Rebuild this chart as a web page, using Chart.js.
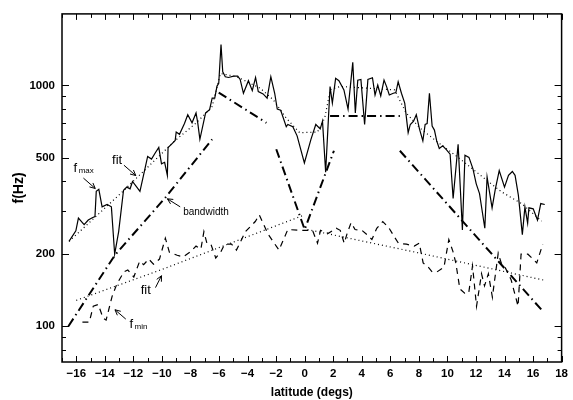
<!DOCTYPE html>
<html>
<head>
<meta charset="utf-8">
<script src="https://cdn.jsdelivr.net/npm/chart.js@4.4.0/dist/chart.umd.min.js"></script>
<style>
  body { margin: 0; background: #fff; }
  #wrap { width: 573px; height: 400px; }
</style>
</head>
<body>
<div id="wrap"><canvas id="chart" width="573" height="400"></canvas></div>
<script>
// upper frequency limit (solid)
const fmaxLat = [-16.51,-16.03,-15.85,-15.45,-15.16,-14.88,-14.69,-14.60,-14.42,-14.19,
  -13.84,-13.54,-13.31,-13.03,-12.69,-12.46,-12.23,-12.06,-11.76,-11.54,
  -11.19,-11.00,-10.73,-10.45,-10.22,-10.03,-9.81,-9.62,-9.57,-9.34,
  -9.07,-9.00,-8.77,-8.42,-8.19,-7.89,-7.61,-7.49,-7.34,-6.94,
  -6.66,-6.48,-6.30,-6.14,-6.02,-5.86,-5.74,-5.56,-5.33,-4.98,
  -4.69,-4.52,-4.29,-3.94,-3.67,-3.44,-3.25,-2.91,-2.63,-2.37,
  -2.10,-1.92,-1.68,-1.29,-1.18,-0.83,-0.53,-0.02,0.44,0.78,
  1.09,1.25,1.47,1.78,1.94,2.17,2.40,2.75,3.04,3.37,
  3.55,3.72,3.94,4.20,4.43,4.75,4.93,5.12,5.33,5.56,
  5.74,5.93,6.21,6.39,6.55,6.78,7.01,7.25,7.40,7.63,
  7.82,8.05,8.28,8.44,8.58,8.74,8.93,9.09,9.25,9.43,
  9.67,9.94,10.19,10.40,10.75,11.05,11.23,11.51,11.79,12.02,
  12.25,12.62,12.78,13.13,13.36,13.63,14.00,14.28,14.55,14.74,
  14.97,15.25,15.43,15.62,15.71,16.01,16.31,16.54,16.82];
const fmaxHz = [225,249,281,264,276,282,285,363,370,313,
  320,313,199,247,367,378,372,399,378,363,
  450,507,494,526,552,472,479,423,552,569,
  591,640,626,694,755,699,768,699,597,768,
  792,885,885,993,1019,1477,1138,1086,1078,1092,
  1092,1058,927,1045,951,1078,942,921,885,1086,
  927,797,788,673,688,673,617,476,597,688,
  660,710,436,988,844,1069,1045,957,797,1246,
  768,1051,1058,688,1058,1075,912,1003,904,1051,
  988,912,927,933,1035,927,844,636,688,710,
  755,656,588,688,694,927,677,652,588,547,
  561,540,518,339,569,251,513,502,450,390,
  355,255,416,310,372,443,378,423,439,423,
  350,240,313,268,310,307,276,323,320];

// fit to fmax (dotted)
const fmaxFitLat = [-16.5,-12.8,-9.1,-7.7,-6.5,-5.9,-4.75,-3.1,-2.2,-1.3,-0.35,0.9,1.4,1.8,2.5,6.3,7.1,8.05,9.2,10.7,12.9,13.8,15.2,16.6];
const fmaxFitHz  = [225,360,588,690,810,1120,1086,972,871,732,636,640,730,960,990,957,770,667,588,505,397,361,323,273];

// lower frequency limit (dashed)
const fminLat = [-15.57,-15.09,-14.81,-14.46,-14.12,-13.91,-13.49,-13.15,-12.66,-12.39,
  -11.97,-11.56,-11.28,-10.93,-10.59,-10.17,-9.76,-9.48,-8.93,-8.51,
  -8.03,-7.61,-7.27,-7.06,-6.85,-6.57,-6.23,-5.88,-5.61,-5.12,
  -4.78,-4.15,-3.46,-3.18,-2.56,-1.80,-1.18,-0.35,0.21,0.55,
  0.90,1.11,1.66,2.21,2.49,2.77,2.98,3.25,3.53,4.01,
  4.43,4.71,5.05,5.47,5.88,6.30,6.57,7.13,7.68,8.03,
  8.30,8.65,8.93,9.27,9.76,10.10,10.38,10.59,10.87,11.21,
  11.49,11.76,12.04,12.39,12.60,12.87,13.15,13.56,13.77,14.05,
  14.46,14.95,15.16,15.29,15.64,15.99,16.26,16.68];
const fminHz = [104,104,121,123,108,106,133,150,168,171,
  160,186,180,190,181,190,232,203,197,194,
  203,215,209,247,221,219,192,203,219,219,
  207,247,272,290,241,207,252,250,250,250,
  221,250,243,255,250,221,243,269,252,250,
  238,229,255,272,257,234,221,219,215,221,
  183,176,168,168,176,229,205,183,143,137,
  137,178,121,165,147,165,132,201,183,175,
  156,121,199,199,199,190,183,219];

// fits to fmin, one each side of the equator (dotted)
const fminFitLat = [-16.0,-10.0,0.0,null,0.2,7.9,16.82];
const fminFitHz  = [128,172,290,null,252,202,155];

// bandwidth (dash-dot), separate pieces split by nulls
const bwLat = [-16.55,-13.3,-9.81,-6.48,null,-6.02,-2.68,null,-1.99,0,2.05,null,1.78,6.67,null,6.67,16.59];
const bwHz  = [100,197,339,597,null,933,699,null,543,252,535,null,746,746,null,535,117];

const xTicks = [-16,-14,-12,-10,-8,-6,-4,-2,0,2,4,6,8,10,12,14,16,18];
const yTicks = [100,200,500,1000];
const yMinor = [80,90,300,400,600,700,800,900];

function pts(xs, ys) {
  return xs.map((v, i) => (v === null ? {x: (xs[i - 1] + xs[i + 1]) / 2, y: null} : {x: v, y: ys[i]}));
}

const tickFont = {family: 'Liberation Sans', size: 11.5, weight: 'bold'};

// labels with arrows, placed in data coordinates
const notes = [
  {text: 'f', sub: 'max', at: [-16.19, 436], from: [-15.5, 412], to: [-14.67, 373]},
  {text: 'fit', at: [-13.49, 470], from: [-12.66, 466], to: [-11.83, 422]},
  {text: 'bandwidth', small: true, at: [-8.51, 290], from: [-8.72, 313], to: [-9.62, 338]},
  {text: 'fit', at: [-11.49, 136], from: [-10.45, 144.6], to: [-10.03, 162]},
  {text: 'f', sub: 'min', at: [-12.28, 98], from: [-12.53, 107], to: [-13.29, 117]}
];

const frameAndNotes = {
  id: 'frameAndNotes',
  afterDatasetsDraw(chart) {
    const {ctx, chartArea: a, scales: {x, y}} = chart;
    ctx.save();
    ctx.strokeStyle = '#000';
    ctx.lineWidth = 1.5;
    ctx.strokeRect(a.left, a.top, a.right - a.left, a.bottom - a.top);

    // inward ticks on all four sides
    ctx.lineWidth = 1;
    ctx.beginPath();
    for (let d = -17; d <= 18; d++) {
      const px = Math.round(x.getPixelForValue(d)) + 0.5;
      const len = d % 2 === 0 ? 6 : 4;
      ctx.moveTo(px, a.bottom); ctx.lineTo(px, a.bottom - len);
      ctx.moveTo(px, a.top); ctx.lineTo(px, a.top + len);
    }
    yTicks.concat(yMinor).forEach(v => {
      const py = Math.round(y.getPixelForValue(v)) + 0.5;
      const len = yTicks.includes(v) ? 7 : 4;
      ctx.moveTo(a.left, py); ctx.lineTo(a.left + len, py);
      ctx.moveTo(a.right, py); ctx.lineTo(a.right - len, py);
    });
    ctx.stroke();

    // annotations
    ctx.fillStyle = '#000';
    ctx.textBaseline = 'alphabetic';
    notes.forEach(n => {
      const tx = x.getPixelForValue(n.at[0]);
      const ty = y.getPixelForValue(n.at[1]);
      ctx.font = n.small ? '10px "Liberation Sans Narrow", "Liberation Sans"' : '13px "Liberation Sans Narrow", "Liberation Sans"';
      ctx.fillText(n.text, tx, ty);
      if (n.sub) {
        const w = ctx.measureText(n.text).width;
        ctx.font = '8px "Liberation Sans Narrow", "Liberation Sans"';
        ctx.fillText(n.sub, tx + w + 1.5, ty + 1);
      }
      const x1 = x.getPixelForValue(n.from[0]), y1 = y.getPixelForValue(n.from[1]);
      const x2 = x.getPixelForValue(n.to[0]), y2 = y.getPixelForValue(n.to[1]);
      const ang = Math.atan2(y2 - y1, x2 - x1);
      ctx.beginPath();
      ctx.lineWidth = 1;
      ctx.moveTo(x1, y1); ctx.lineTo(x2, y2);
      ctx.moveTo(x2 - 6 * Math.cos(ang - 0.45), y2 - 6 * Math.sin(ang - 0.45));
      ctx.lineTo(x2, y2);
      ctx.lineTo(x2 - 6 * Math.cos(ang + 0.45), y2 - 6 * Math.sin(ang + 0.45));
      ctx.stroke();
    });
    ctx.restore();
  }
};

const lineBase = {pointRadius: 0, tension: 0, fill: false, borderColor: '#000', spanGaps: false};

new Chart(document.getElementById('chart'), {
  type: 'line',
  data: {
    datasets: [
      Object.assign({}, lineBase, {label: 'fmax', data: pts(fmaxLat, fmaxHz), borderWidth: 1.2}),
      Object.assign({}, lineBase, {label: 'fmax fit', data: pts(fmaxFitLat, fmaxFitHz), borderWidth: 1.2, borderDash: [1, 3]}),
      Object.assign({}, lineBase, {label: 'fmin', data: pts(fminLat, fminHz), borderWidth: 1.2, borderDash: [6, 5]}),
      Object.assign({}, lineBase, {label: 'fmin fit', data: pts(fminFitLat, fminFitHz), borderWidth: 1.2, borderDash: [1, 3]}),
      Object.assign({}, lineBase, {label: 'bandwidth', data: pts(bwLat, bwHz), borderWidth: 2, borderDash: [9, 4, 1.5, 4]})
    ]
  },
  options: {
    responsive: false,
    animation: false,
    parsing: true,
    layout: {padding: {top: 10, right: 5, left: 0, bottom: 0}},
    plugins: {legend: {display: false}, tooltip: {enabled: false}},
    scales: {
      x: {
        type: 'linear',
        min: -17,
        max: 18,
        grid: {display: false, drawTicks: false},
        border: {display: false},
        afterBuildTicks: s => { s.ticks = xTicks.map(v => ({value: v})); },
        afterFit: s => { s.height = 38; },
        ticks: {
          color: '#000',
          font: tickFont,
          padding: 5,
          maxRotation: 0,
          autoSkip: false,
          callback: v => String(v).replace('-', '\u2212')
        },
        title: {
          display: true,
          text: 'latitude (degs)',
          color: '#000',
          font: {family: 'Liberation Sans', size: 12, weight: 'bold'},
          padding: 0
        }
      },
      y: {
        type: 'logarithmic',
        min: 71,
        max: 1980,
        grid: {display: false, drawTicks: false},
        border: {display: false},
        afterBuildTicks: s => { s.ticks = yTicks.map(v => ({value: v})); },
        afterFit: s => { s.width = 62; },
        ticks: {
          color: '#000',
          font: tickFont,
          padding: 7,
          autoSkip: false,
          callback: v => String(v)
        },
        title: {
          display: true,
          text: 'f(Hz)',
          color: '#000',
          font: {family: 'Liberation Sans', size: 14, weight: 'bold'},
          padding: 11
        }
      }
    }
  },
  plugins: [frameAndNotes]
});
</script>
</body>
</html>
